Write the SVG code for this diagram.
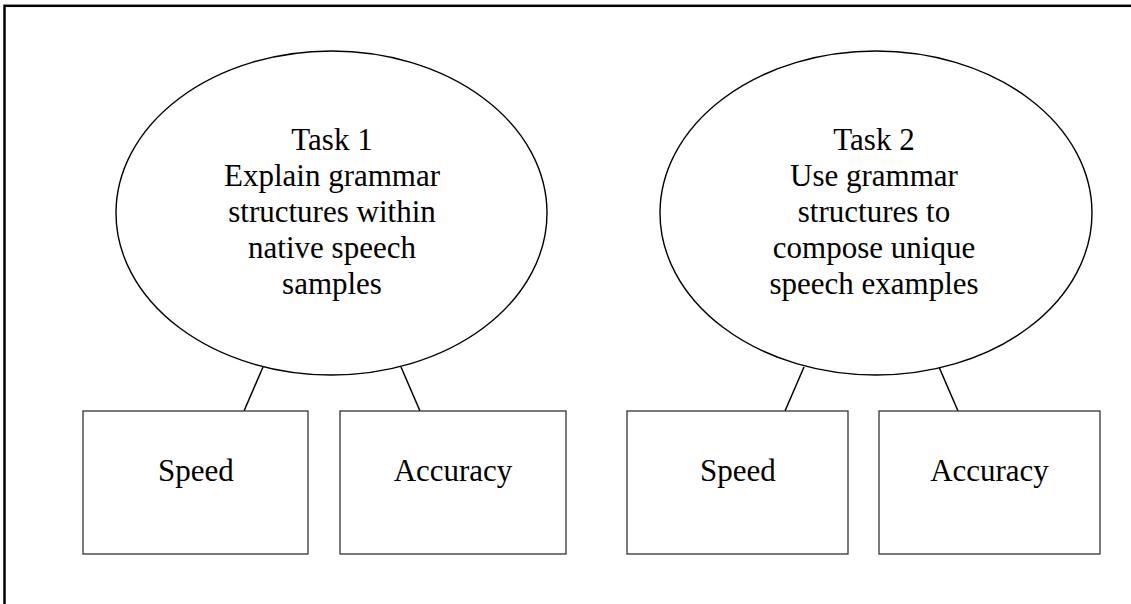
<svg xmlns="http://www.w3.org/2000/svg" width="1131" height="604" viewBox="0 0 1131 604">
<style>
.frame{fill:none;stroke:#000;stroke-width:2.5}
.ell{fill:#fff;stroke:#000;stroke-width:1.4}
.box{fill:#fff;stroke:#333;stroke-width:1.3}
.conn{stroke:#000;stroke-width:1.5;fill:none}
text{font-family:"Liberation Serif","Times New Roman",serif;font-size:31px;fill:#000;text-anchor:middle}
</style>
<rect width="1131" height="604" fill="#fff"/>
<rect class="frame" x="4.5" y="5.8" width="1140" height="620"/>
<g id="connectors">
<line class="conn" x1="263" y1="367" x2="244" y2="411"/>
<line class="conn" x1="401" y1="367" x2="420" y2="411"/>
<line class="conn" x1="804" y1="367" x2="785" y2="411"/>
<line class="conn" x1="939" y1="367" x2="958" y2="411"/>
</g>
<g id="task1">
<ellipse class="ell" cx="331.5" cy="213" rx="215.5" ry="162"/>
<text x="332" y="150">Task 1</text>
<text x="332" y="186">Explain grammar</text>
<text x="332" y="222">structures within</text>
<text x="332" y="258">native speech</text>
<text x="332" y="294">samples</text>
</g>
<g id="task2">
<ellipse class="ell" cx="876" cy="213" rx="216" ry="162"/>
<text x="874" y="150">Task 2</text>
<text x="874" y="186">Use grammar</text>
<text x="874" y="222">structures to</text>
<text x="874" y="258">compose unique</text>
<text x="874" y="294">speech examples</text>
</g>
<g id="speed1">
<rect class="box" x="83" y="411" width="225" height="143"/>
<text x="196" y="481">Speed</text>
</g>
<g id="accuracy1">
<rect class="box" x="340" y="411" width="226" height="143"/>
<text x="453" y="481">Accuracy</text>
</g>
<g id="speed2">
<rect class="box" x="627" y="411" width="221" height="143"/>
<text x="738" y="481">Speed</text>
</g>
<g id="accuracy2">
<rect class="box" x="879" y="411" width="221" height="143"/>
<text x="989.5" y="481">Accuracy</text>
</g>
</svg>
